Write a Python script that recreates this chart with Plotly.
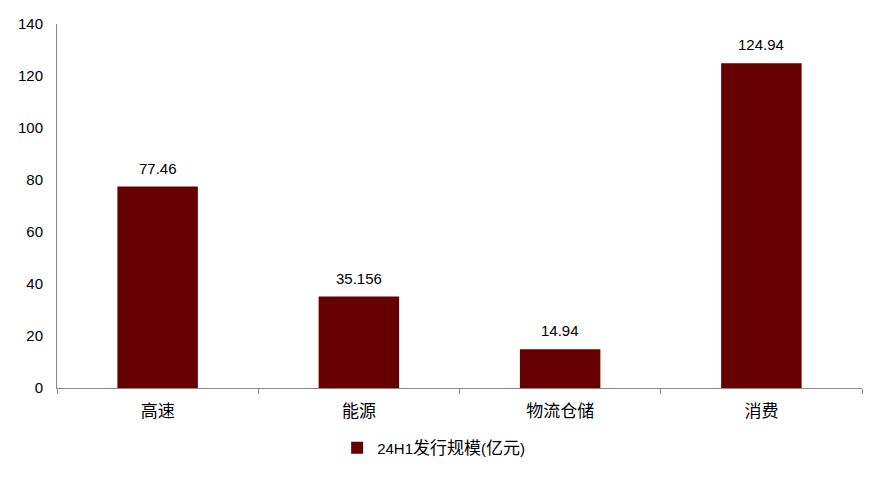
import plotly.graph_objects as go

categories = ["高速", "能源", "物流仓储", "消费"]
values = [77.46, 35.156, 14.94, 124.94]
value_labels = ["77.46", "35.156", "14.94", "124.94"]
series_name = '24H1<span style="font-size:17px">发行规模</span>(<span style="font-size:17px">亿元</span>)'
y_ticks = [0, 20, 40, 60, 80, 100, 120, 140]

font_family = "Liberation Sans, Arial, Noto Sans CJK SC, sans-serif"

fig = go.Figure(
    go.Bar(
        x=categories,
        y=values,
        name=series_name,
        marker=dict(color="#660000", line=dict(width=0)),
        width=0.4,
        showlegend=True,
    )
)

for c, v, t in zip(categories, values, value_labels):
    fig.add_annotation(
        x=c, y=v, text=t, showarrow=False,
        yanchor="bottom", yshift=8,
        font=dict(size=15, color="#000000", family=font_family),
    )

fig.update_layout(
    width=884,
    height=477,
    margin=dict(l=49, r=30, t=16, b=97, autoexpand=False),
    paper_bgcolor="white",
    plot_bgcolor="white",
    font=dict(family=font_family, size=15, color="#000000"),
    showlegend=True,
    legend=dict(
        orientation="h",
        x=0.348,
        xanchor="left",
        y=-0.165,
        yanchor="middle",
        font=dict(size=15, family=font_family),
    ),
    bargap=0.6,
)

fig.update_xaxes(
    type="category",
    showline=True,
    linecolor="#888888",
    linewidth=1,
    ticks="outside",
    tickson="boundaries",
    ticklen=5,
    tickcolor="#888888",
    showgrid=False,
    tickfont=dict(size=17),
    ticklabelstandoff=8,
    automargin=False,
)
fig.update_yaxes(
    range=[0, 140],
    tickvals=y_ticks,
    showline=True,
    linecolor="#888888",
    linewidth=1,
    showgrid=False,
    zeroline=False,
    ticks="",
    tickfont=dict(size=15),
    ticklabelstandoff=10,
    automargin=False,
)

fig.write_html("out.html")
